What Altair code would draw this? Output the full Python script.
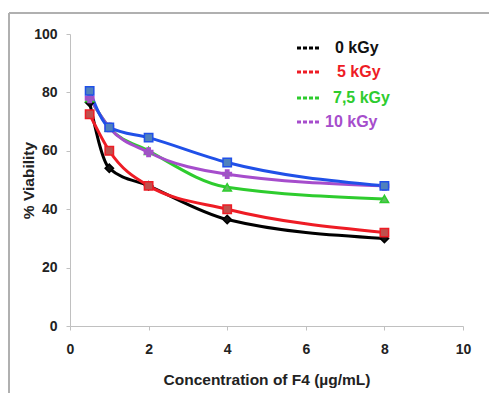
import altair as alt
import pandas as pd

conc = [0.5, 1, 2, 4, 8]
series_names = ["0 kGy", "5 kGy", "7,5 kGy", "10 kGy", "blue"]
v0 = [76.5, 54, 48, 36.5, 30]
v5 = [72.5, 60, 48, 40, 32]
v75 = [78, 68, 60, 47.5, 43.5]
v10 = [78, 68, 59.5, 52, 48]
vblue = [80.5, 68, 64.5, 56, 48]
all_vals = [v0, v5, v75, v10, vblue]

line_colors = ["#000000", "#ee1c25", "#2ecc2e", "#a64dcc", "#2050e8"]
mark_fill = ["#111111", "#c0504d", "#5cc05c", "#9b59c0", "#4f81bd"]
shapes = ["diamond", "square", "triangle-up", "cross", "square"]
legend_labels = ["0 kGy", "5 kGy", "7,5 kGy", "10 kGy"]

W, H = 393, 292
FONT = "Liberation Sans"

xs = alt.Scale(domain=[0, 10], nice=False)
ys = alt.Scale(domain=[0, 100], nice=False)

layers = []
# outer border lines
layers.append(alt.Chart(pd.DataFrame({"a": [0]})).mark_rule(color="#b0b0b0", strokeWidth=2, clip=False).encode(
    x=alt.value(-61), y=alt.value(-21), y2=alt.value(400)))
layers.append(alt.Chart(pd.DataFrame({"a": [0]})).mark_rule(color="#b0b0b0", strokeWidth=2, clip=False).encode(
    x=alt.value(-61), x2=alt.value(430), y=alt.value(-21)))

for i, name in enumerate(series_names):
    df = pd.DataFrame({"conc": conc, "v": all_vals[i]})
    layers.append(alt.Chart(df).mark_line(color=line_colors[i], strokeWidth=3, interpolate="monotone").encode(
        x=alt.X("conc:Q", scale=xs), y=alt.Y("v:Q", scale=ys)))
for i, name in enumerate(series_names):
    df = pd.DataFrame({"conc": conc, "v": all_vals[i]})
    layers.append(alt.Chart(df).mark_point(shape=shapes[i], filled=True, size=70, fill=mark_fill[i],
                                           stroke=line_colors[i], strokeWidth=1.5, opacity=1).encode(
        x=alt.X("conc:Q", scale=xs), y=alt.Y("v:Q", scale=ys)))

row_y = [14, 38, 64, 88]
text_x = [265, 267, 263, 255]
for i, lab in enumerate(legend_labels):
    d = pd.DataFrame({"label": [lab]})
    layers.append(alt.Chart(d).mark_rule(color=line_colors[i], strokeWidth=3, strokeDash=[4, 2]).encode(
        x=alt.value(227), x2=alt.value(251), y=alt.value(row_y[i])))
    layers.append(alt.Chart(d).mark_text(align="left", baseline="middle", font=FONT, fontSize=16,
                                         fontWeight="bold", color=line_colors[i] if i != 0 else "#111111").encode(
        x=alt.value(text_x[i]), y=alt.value(row_y[i]), text="label:N"))

chart = alt.layer(*layers).encode(
    x=alt.X("conc:Q", scale=xs, axis=alt.Axis(
        title="Concentration of F4 (µg/mL)", values=[0, 2, 4, 6, 8, 10], grid=False, labelFlush=False)),
    y=alt.Y("v:Q", scale=ys, axis=alt.Axis(
        title="% Viability", values=[0, 20, 40, 60, 80, 100], grid=False, labelFlush=False)),
).properties(
    width=W, height=H,
    autosize=alt.AutoSizeParams(type="none"),
    padding={"left": 70, "top": 34, "right": 26, "bottom": 67},
).configure_view(stroke=None).configure_axis(
    domainColor="#c0c0c0", tickColor="#c0c0c0", tickSize=4,
    labelFont=FONT, labelFontSize=14, labelFontWeight="bold", labelColor="#222222",
    titleFont=FONT, titleFontSize=15.5, titleFontWeight="bold", titleColor="#222222",
).configure_axisX(labelPadding=12, titlePadding=16).configure_axisY(labelPadding=9, titlePadding=-3)

chart.save("out.html", embed_options={"renderer": "svg", "actions": False})
